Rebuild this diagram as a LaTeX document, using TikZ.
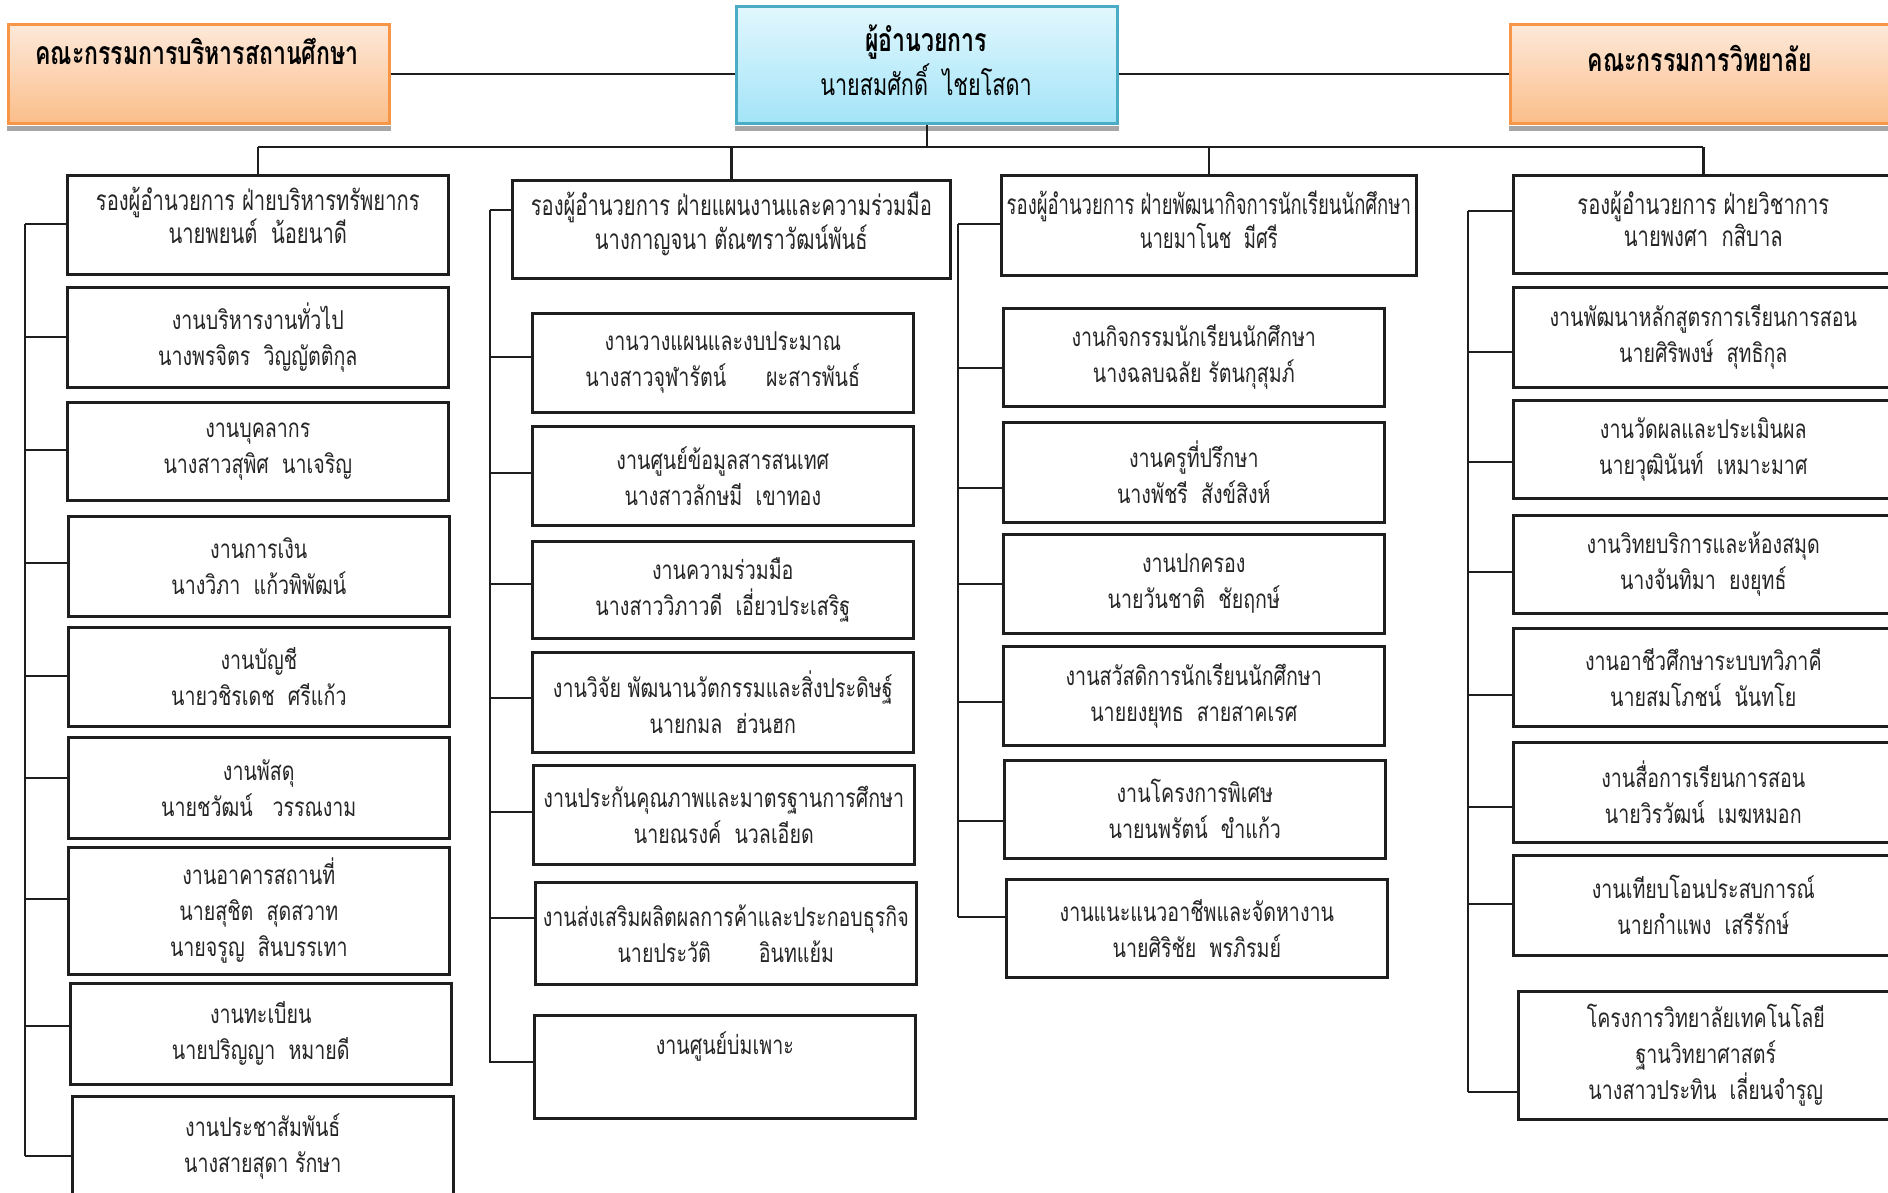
\documentclass[tikz,border=0pt]{standalone}
\usepackage{fontspec}
\newfontfamily\thaisub[Script=Thai,FakeStretch=0.755]{Loma}
\newfontfamily\thaicond[Script=Thai,FakeStretch=0.72]{Loma}
\newfontfamily\thaicondn[Script=Thai,FakeStretch=0.66]{Loma}
\usetikzlibrary{calc}
\definecolor{orbord}{HTML}{F79646}
\definecolor{ortop}{HTML}{FDE9DA}
\definecolor{orbot}{HTML}{FBBE8A}
\definecolor{cybord}{HTML}{4BACC6}
\definecolor{cytop}{HTML}{E2F7FD}
\definecolor{cybot}{HTML}{A3E4F8}
\definecolor{ink}{HTML}{1E1E1E}
\definecolor{txt}{HTML}{262626}
\newcommand\bx[7]{\node[#1, anchor=north west, minimum width={(#5-#3)*1pt}, minimum height={(#6-#4)*1pt}] (#2) at (#3,#4) {#7};}
\tikzset{
  frame/.style={draw=ink, line width=2.6pt, inner sep=0pt, align=center, text=txt},
  subbox/.style={frame, font=\thaisub\fontsize{26}{36}\selectfont},
  depbox/.style={frame},
  deptext/.style={inner sep=0pt, align=center, text=txt, font=\thaicond\fontsize{28}{29}\selectfont},
  link/.style={draw=ink, line width=2.4pt},
  orbox/.style={draw=orbord, line width=2.6pt, top color=ortop, bottom color=orbot, inner sep=0pt},
  cybox/.style={draw=cybord, line width=2.6pt, top color=cytop, bottom color=cybot, inner sep=0pt},
  shadowband/.style={fill=black!35},
  hdr/.style={font=\thaicond\bfseries\fontsize{32}{36}\selectfont, text=black, inner sep=0pt},
  hdrname/.style={font=\thaicond\fontsize{30}{34}\selectfont, text=black, inner sep=0pt},
}
\begin{document}
\begin{tikzpicture}[x=1pt,y=-1pt]
\useasboundingbox[fill=white] (0,0) rectangle (1888,1192);
% top boxes
\bx{orbox}{L}{7}{23}{388}{122}{}
\bx{cybox}{C}{735}{5}{1116}{122}{}
\bx{orbox}{R}{1509}{23}{1892}{122}{}
\fill[shadowband] ([yshift=-1.3pt]L.south west) rectangle ([yshift=-6pt]L.south east);
\fill[shadowband] ([yshift=-1.3pt]C.south west) rectangle ([yshift=-6pt]C.south east);
\fill[shadowband] ([yshift=-1.3pt]R.south west) rectangle ([yshift=-6pt]R.south east);
\node[hdr] (Lt) at (197,51) {คณะกรรมการบริหารสถานศึกษา};
\node[hdr] (Ct) at (926,42) {ผู้อำนวยการ};
\node[hdrname] (Cn) at (926,80) {นายสมศักดิ์\ \ ไชยโสดา};
\node[hdr] (Rt) at (1700,58) {คณะกรรมการวิทยาลัย};
\draw[link] (L.east) -- (L.east -| C.west);
\draw[link] (R.west) -- (R.west -| C.east);
% deputies
\bx{depbox}{D1}{66}{174}{447}{273}{}
\bx{depbox}{D2}{511}{179}{949}{277}{}
\bx{depbox}{D3}{1000}{174}{1415}{274}{}
\bx{depbox}{D4}{1512}{174}{1892}{272}{}
\node[deptext] (D1t) at ($(D1.center)+(0,-9)$) {รองผู้อำนวยการ ฝ่ายบริหารทรัพยากร\\นายพยนต์\ \ น้อยนาดี};
\node[deptext, font=\thaicond\fontsize{28}{34}\selectfont] (D2t) at ($(D2.center)+(0,-5)$) {รองผู้อำนวยการ ฝ่ายแผนงานและความร่วมมือ\\นางกาญจนา ตัณฑราวัฒน์พันธ์};
\node[deptext, font=\thaicondn\fontsize{28}{34}\selectfont] (D3t) at ($(D3.center)+(0,-6)$) {รองผู้อำนวยการ ฝ่ายพัฒนากิจการนักเรียนนักศึกษา\\นายมาโนช\ \ มีศรี};
\node[deptext, font=\thaicond\fontsize{28}{32}\selectfont] (D4t) at ($(D4.center)+(0,-5)$) {รองผู้อำนวยการ ฝ่ายวิชาการ\\นายพงศา\ \ กสิบาล};
% bus
\coordinate (cbus) at (927,147);
\draw[link] (C.south -| cbus) -- (cbus);
\draw[link, line width=2.8pt] (D1.north |- cbus) -- (D4.north |- cbus);
\foreach \d in {D1,D2,D3,D4} \draw[link] (\d.north |- cbus) -- (\d.north);
% column 1
\bx{subbox}{a1}{66}{286}{447}{386}{งานบริหารงานทั่วไป\\นางพรจิตร\ \ วิญญัตติกุล}
\bx{subbox}{a2}{66}{401}{447}{499}{งานบุคลากร\\นางสาวสุพิศ\ \ นาเจริญ}
\bx{subbox}{a3}{67}{515}{448}{615}{งานการเงิน\\นางวิภา\ \ แก้วพิพัฒน์}
\bx{subbox}{a4}{67}{626}{448}{725}{งานบัญชี\\นายวชิรเดช\ \ ศรีแก้ว}
\bx{subbox}{a5}{67}{736}{448}{837}{งานพัสดุ\\นายชวัฒน์\ \ \ วรรณงาม}
\bx{subbox}{a6}{67}{846}{448}{973}{งานอาคารสถานที่\\นายสุชิต\ \ สุดสวาท\\นายจรูญ\ \ สินบรรเทา}
\bx{subbox}{a7}{69}{982}{450}{1083}{งานทะเบียน\\นายปริญญา\ \ หมายดี}
\bx{subbox}{a8}{71}{1095}{452}{1196}{งานประชาสัมพันธ์\\นางสายสุดา รักษา}
\coordinate (s1t) at (25,224);
\coordinate (s1b) at (25,1156);
\draw[link] (s1t) -- (s1b);
\foreach \n/\y in {D1/224,a1/337,a2/450,a3/563,a4/676,a5/778,a6/899,a7/1026,a8/1156} {
  \coordinate (br\n) at (25,\y);
  \draw[link] (br\n) -- (br\n -| \n.west);
}
% column 2
\bx{subbox}{b1}{531}{312}{912}{411}{งานวางแผนและงบประมาณ\\นางสาวจุฬารัตน์\hspace{40pt}ผะสารพันธ์}
\bx{subbox}{b2}{531}{425}{912}{524}{งานศูนย์ข้อมูลสารสนเทศ\\นางสาวลักษมี\ \ เขาทอง}
\bx{subbox}{b3}{531}{540}{912}{637}{งานความร่วมมือ\\นางสาววิภาวดี\ \ เอี่ยวประเสริฐ}
\bx{subbox}{b4}{531}{651}{912}{751}{งานวิจัย พัฒนานวัตกรรมและสิ่งประดิษฐ์\\นายกมล\ \ ฮ่วนฮก}
\bx{subbox}{b5}{532}{764}{913}{863}{งานประกันคุณภาพและมาตรฐานการศึกษา\\นายณรงค์\ \ นวลเอียด}
\bx{subbox}{b6}{534}{881}{915}{983}{งานส่งเสริมผลิตผลการค้าและประกอบธุรกิจ\\นายประวัติ\hspace{48pt}อินทแย้ม}
\bx{subbox}{b7}{533}{1014}{914}{1117}{งานศูนย์บ่มเพาะ\\\strut}
\coordinate (s2t) at (490,210);
\coordinate (s2b) at (490,1063);
\draw[link] (s2t) -- (s2b);
\foreach \n/\y in {D2/210,b1/357,b2/473,b3/584,b4/698,b5/812,b6/918,b7/1062} {
  \coordinate (br\n) at (490,\y);
  \draw[link] (br\n) -- (br\n -| \n.west);
}
% column 3
\bx{subbox}{c1}{1002}{307}{1383}{405}{งานกิจกรรมนักเรียนนักศึกษา\\นางฉลบฉลัย รัตนกุสุมภ์}
\bx{subbox}{c2}{1002}{421}{1383}{521}{งานครูที่ปรึกษา\\นางพัชรี\ \ สังข์สิงห์}
\bx{subbox}{c3}{1002}{533}{1383}{632}{งานปกครอง\\นายวันชาติ\ \ ชัยฤกษ์}
\bx{subbox}{c4}{1002}{645}{1383}{744}{งานสวัสดิการนักเรียนนักศึกษา\\นายยงยุทธ\ \ สายสาคเรศ}
\bx{subbox}{c5}{1003}{759}{1384}{857}{งานโครงการพิเศษ\\นายนพรัตน์\ \ ขำแก้ว}
\bx{subbox}{c6}{1005}{878}{1386}{976}{งานแนะแนวอาชีพและจัดหางาน\\นายศิริชัย\ \ พรภิรมย์}
\coordinate (s3t) at (958,224);
\coordinate (s3b) at (958,917);
\draw[link] (s3t) -- (s3b);
\foreach \n/\y in {D3/224,c1/368,c2/488,c3/584,c4/702,c5/821,c6/917} {
  \coordinate (br\n) at (958,\y);
  \draw[link] (br\n) -- (br\n -| \n.west);
}
% column 4
\bx{subbox}{d1}{1512}{286}{1892}{386}{งานพัฒนาหลักสูตรการเรียนการสอน\\นายศิริพงษ์\ \ สุทธิกุล}
\bx{subbox}{d2}{1512}{399}{1892}{497}{งานวัดผลและประเมินผล\\นายวุฒินันท์\ \ เหมาะมาศ}
\bx{subbox}{d3}{1512}{514}{1892}{612}{งานวิทยบริการและห้องสมุด\\นางจันทิมา\ \ ยงยุทธ์}
\bx{subbox}{d4}{1512}{627}{1892}{725}{งานอาชีวศึกษาระบบทวิภาคี\\นายสมโภชน์\ \ นันทโย}
\bx{subbox}{d5}{1512}{741}{1892}{841}{งานสื่อการเรียนการสอน\\นายวิรวัฒน์\ \ เมฆหมอก}
\bx{subbox}{d6}{1512}{854}{1892}{954}{งานเทียบโอนประสบการณ์\\นายกำแพง\ \ เสรีรักษ์}
\bx{subbox}{d7}{1517}{990}{1892}{1118}{โครงการวิทยาลัยเทคโนโลยี\\ฐานวิทยาศาสตร์\\นางสาวประทิน\ \ เลี่ยนจำรูญ}
\coordinate (s4t) at (1468,211);
\coordinate (s4b) at (1468,1092);
\draw[link] (s4t) -- (s4b);
\foreach \n/\y in {D4/211,d1/352,d2/462,d3/572,d4/695,d5/807,d6/904,d7/1092} {
  \coordinate (br\n) at (1468,\y);
  \draw[link] (br\n) -- (br\n -| \n.west);
}
\end{tikzpicture}
\end{document}
